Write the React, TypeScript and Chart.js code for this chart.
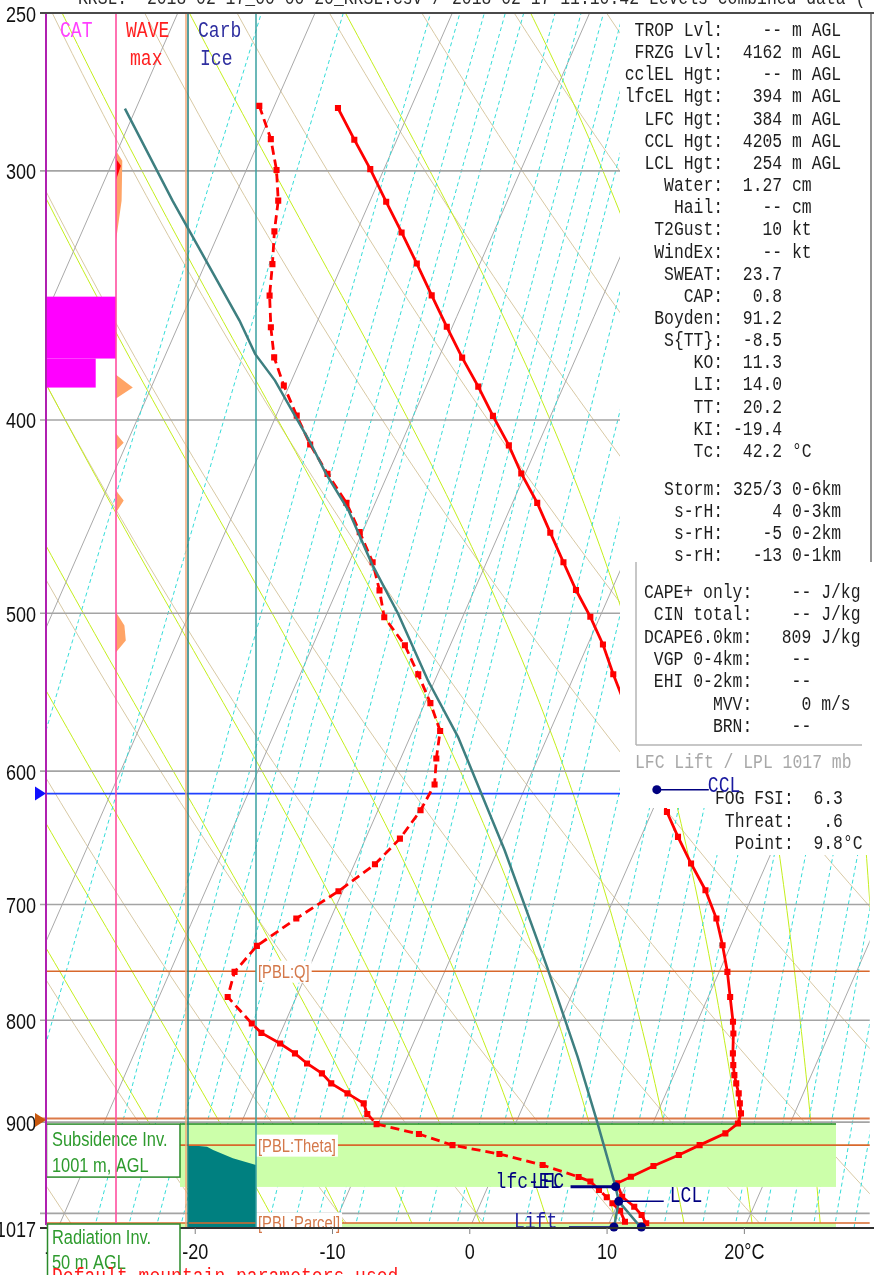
import { useEffect, useRef } from "react";
import { Chart, registerables } from "chart.js";

Chart.register(...registerables);

// ---------- skew-T geometry ----------
const P_TOP = 250;
const P_BASE = 1017;
const SKEW = 27.6; // °C of horizontal shift per natural-log unit of pressure
const X_MIN = -30.87;
const X_MAX = 29.13;
const skew = (t: number, p: number) => t + SKEW * Math.log(P_BASE / p);

// ---------- observed temperature (hPa, °C) ----------
const tempPres = [279.0, 289.4, 299.4, 310.9, 322.1, 333.9, 346.4, 359.2, 372.2, 384.9, 398.1, 411.9, 425.5, 440.2, 455.6, 471.4, 486.8, 502.1, 518.4, 536.5, 629.0, 647.4, 667.6, 688.5, 711.4, 733.7, 756.6, 778.8, 801.5, 812.4, 831.3, 842.6, 852.4, 860.6, 870.6, 880.7, 890.9, 901.3, 911.7, 924.2, 934.8, 946.7, 958.5, 965.9, 980.9, 992.3, 1001.8, 1011.5];
const tempVal = [-45.3, -43.1, -41.0, -38.8, -36.7, -34.6, -32.5, -30.4, -28.3, -26.2, -24.2, -22.1, -20.3, -18.2, -16.3, -14.4, -12.6, -10.7, -8.9, -7.2, 1.1, 2.7, 4.5, 6.4, 8.1, 9.4, 10.6, 11.6, 12.6, 13.0, 13.6, 14.0, 14.4, 14.8, 15.3, 15.7, 16.1, 16.2, 15.6, 14.1, 12.9, 11.4, 10.1, 9.3, 10.1, 11.3, 12.1, 12.7];

// ---------- observed dew point (hPa, °C) ----------
const dewPres = [278.3, 289.2, 299.7, 310.5, 321.7, 334.1, 346.5, 359.4, 372.1, 384.4, 398.0, 411.5, 425.7, 440.2, 455.3, 471.4, 487.0, 502.3, 518.9, 536.6, 554.7, 572.9, 591.4, 609.4, 627.8, 648.7, 668.2, 689.3, 711.4, 734.2, 756.6, 778.8, 803.0, 811.8, 821.8, 831.3, 841.0, 850.7, 860.6, 870.6, 880.7, 891.6, 902.0, 912.4, 924.2, 933.7, 945.7, 958.8, 963.8, 973.3, 981.6, 988.4, 996.9, 1009.6];
const dewVal = [-51.1, -49.2, -47.8, -46.7, -46.0, -45.1, -44.3, -43.2, -42.0, -40.4, -38.5, -36.6, -34.4, -32.1, -30.2, -28.3, -26.9, -25.7, -23.3, -21.4, -19.6, -18.0, -17.4, -16.7, -16.9, -17.5, -18.5, -20.3, -22.5, -24.5, -25.3, -25.0, -22.4, -21.4, -19.7, -18.3, -17.1, -15.7, -14.7, -13.2, -11.7, -11.1, -10.1, -6.7, -3.9, -0.2, 3.3, 6.3, 7.3, 8.2, 9.0, 9.6, 10.4, 11.1];
const dewSolidRange = [811, 892];

// ---------- lifted parcel ----------
const parcelPres = [1017, 986.2, 969.6, 897.8, 834.6, 752.2, 657.5, 576.9, 540.4, 500.3, 472.3, 444.1, 425.7, 409.6, 395.7, 382.2, 370.6, 356.6, 310.5, 279.2];
const parcelVal = [12.5, 10.0, 9.3, 5.8, 2.4, -2.7, -9.5, -16.5, -20.5, -24.8, -28.3, -31.7, -34.5, -36.8, -39.0, -41.2, -43.5, -45.7, -54.4, -60.8];
const liftPres = [1017, 986.2];
const liftVal = [10.5, 10.0];

// parcel levels
const lfcLevel = { p: 969.6, t: 9.3 };
const lclLevel = { p: 986.2, t: 10.0 };
const liftBase = { p: 1017, t: 10.5 };
const parcelBase = { p: 1017, t: 12.5 };
const cclLevel = { p: 613.0, t: -0.35 };
const cclLineP = 615.8;
const inversionTopP = 896.3;

// boundary layer markers
const pblPres = [756.0, 924.2, 1011.1];
const pblNames = ["[PBL:Q]", "[PBL:Theta]", "[PBL:Parcel]"];
const subsidenceLayer = [902.0, 969.9];
const radiationLayer = [1011.1, 1017];

// side columns
const catTopP = [346.9, 372.6];
const catBottomP = [372.6, 385.3];
const catLevel = [1.0, 0.71];
const wavePres = [293.1, 296.5, 310.5, 325.2, 379.6, 385.3, 390.2, 406.3, 410.6, 414.4, 434.0, 439.0, 445.1, 499.5, 507.1, 516.0, 523.1];
const waveAmp = [0, 0.09, 0.08, 0, 0, 0.24, 0, 0, 0.11, 0, 0, 0.11, 0, 0, 0.12, 0.14, 0];
const waveMaxPres = [295.8, 298.2, 303.2];
const waveMaxAmp = [0, 0.07, 0];
const iceFrac = [0, 0.28, 0.37, 0.66, 1];
const iceTopP = [924.1, 925.9, 929.5, 938.4, 945.7];

// axes
const pressureLabels = [250, 300, 400, 500, 600, 700, 800, 900, 1017];
const isobarLevels = [300, 400, 500, 600, 700, 800, 900, 1000];
const tempTicks = [-30, -20, -10, 0, 10, 20];
const tempTickLabels = ["-30", "-20", "-10", "0", "10", "20°C"];

// thermodynamic reference lines
const isotherms = [-90, -80, -70, -60, -50, -40, -30, -20, -10, 0, 10, 20, 30];
const dryThetas = [-40, -30, -20, -10, 0, 10, 20, 30, 40, 50, 60, 70, 80, 90, 100, 110, 120, 130, 140];
const moistThetaW = [-20, -15, -10, -5, 0, 5, 10, 15, 20, 25, 30, 35, 40];
const mixingRatios = [0.1, 0.2, 0.4, 0.5, 0.6, 0.7, 0.8, 1.0, 1.2, 1.4, 1.6, 1.8, 2.0, 2.5, 3, 3.5, 4, 5, 6, 7, 8, 9, 10, 12, 14, 16, 18, 20, 22, 24, 26, 28, 30, 33, 36];

// text panels
const indexLabels = ["TROP Lvl:", "FRZG Lvl:", "cclEL Hgt:", "lfcEL Hgt:", "LFC Hgt:", "CCL Hgt:", "LCL Hgt:", "Water:", "Hail:", "T2Gust:", "WindEx:", "SWEAT:", "CAP:", "Boyden:", "S{TT}:", "KO:", "LI:", "TT:", "KI:", "Tc:"];
const indexValues = ["    -- m AGL", "  4162 m AGL", "    -- m AGL", "   394 m AGL", "   384 m AGL", "  4205 m AGL", "   254 m AGL", "  1.27 cm", "    -- cm", "    10 kt", "    -- kt", "  23.7", "   0.8", "  91.2", "  -8.5", "  11.3", "  14.0", "  20.2", " -19.4", "  42.2 °C"];
const stormLabels = ["Storm:", "s-rH:", "s-rH:", "s-rH:"];
const stormValues = [" 325/3 0-6km", "     4 0-3km", "    -5 0-2km", "   -13 0-1km"];
const energyLabels = ["CAPE+ only:", "CIN total:", "DCAPE6.0km:", "VGP 0-4km:", "EHI 0-2km:", "MVV:", "BRN:"];
const energyValues = ["    -- J/kg", "    -- J/kg", "   809 J/kg", "    --", "    --", "     0 m/s", "    --"];
const fogLines = ["FOG FSI:  6.3", " Threat:   .6", "  Point:  9.8°C"];

// ---------- helpers ----------
const SQUEEZE = 0.82;
const SANS = '"Liberation Sans", Arial, sans-serif';
const MONO = '"Liberation Mono", "Courier New", monospace';

function drawText(ctx: CanvasRenderingContext2D, s: string, x: number, y: number, font: string, color: string, align: "left" | "right" | "center" = "left", bg?: string) {
  ctx.save();
  ctx.font = font;
  ctx.textBaseline = "alphabetic";
  ctx.textAlign = "left";
  const w = ctx.measureText(s).width * SQUEEZE;
  const x0 = align === "left" ? x : align === "right" ? x - w : x - w / 2;
  if (bg) {
    ctx.fillStyle = bg;
    ctx.fillRect(x0 - 2, y - 17, w + 4, 22);
  }
  ctx.fillStyle = color;
  ctx.translate(x0, y);
  ctx.scale(SQUEEZE, 1);
  ctx.fillText(s, 0, 0);
  ctx.restore();
}

const satVap = (tc: number) => 6.112 * Math.exp((17.67 * tc) / (tc + 243.5));
const dewFromMix = (w: number, p: number) => {
  const e = (w * p) / (622 + w);
  const l = Math.log(e / 6.112);
  return (243.5 * l) / (17.67 - l);
};
const dryAdiabat = (thetaC: number, p: number) => (thetaC + 273.15) * Math.pow(p / 1000, 0.2857) - 273.15;
const moistLapse = (tK: number, p: number) => {
  const es = satVap(tK - 273.15);
  const rs = (0.622 * es) / (p - es);
  return (287.04 * tK + 2.501e6 * rs) / (1005.7 + (2.501e6 * 2.501e6 * rs * 0.622) / (287.04 * tK * tK));
};
const moistAdiabat = (thetaW: number): Array<[number, number]> => {
  const pts: Array<[number, number]> = [];
  const t0 = thetaW + 273.15;
  const below = t0 + Math.log(P_BASE / 1000) * moistLapse(t0, 1000);
  pts.push([P_BASE, below - 273.15]);
  pts.push([1000, thetaW]);
  let lnp = Math.log(1000);
  let T = t0;
  const h = -0.01;
  while (Math.exp(lnp) > P_TOP - 2) {
    const k1 = moistLapse(T, Math.exp(lnp));
    const k2 = moistLapse(T + h * k1, Math.exp(lnp + h));
    T += (h * (k1 + k2)) / 2;
    lnp += h;
    pts.push([Math.exp(lnp), T - 273.15]);
  }
  return pts;
};
const sampleLevels: number[] = [];
for (let i = 0; i <= 60; i++) sampleLevels.push(P_BASE * Math.pow(P_TOP / P_BASE, i / 60));

const BAND_LEFT = 180;
const BAND_RIGHT = 836;
const CAT_LEFT = 46;
const WAVE_LEFT = 116;
const COL_WIDTH = 70;
const ICE_LEFT = 188;
const ICE_RIGHT = 256;

// ---------- background: thermodynamic diagram and layer markings ----------
const backgroundPlugin = {
  id: "skewtBackground",
  beforeDatasetsDraw(chart: any) {
    const { ctx, chartArea: a } = chart;
    const xs = chart.scales.x;
    const ys = chart.scales.y;
    const px = (t: number, p: number) => xs.getPixelForValue(skew(t, p));
    const py = (p: number) => ys.getPixelForValue(p);
    const curve = (pts: Array<[number, number]>) => {
      ctx.beginPath();
      pts.forEach(([p, t], i) => (i ? ctx.lineTo(px(t, p), py(p)) : ctx.moveTo(px(t, p), py(p))));
      ctx.stroke();
    };
    const hline = (y: number, x0: number, x1: number) => {
      ctx.beginPath();
      ctx.moveTo(x0, y);
      ctx.lineTo(x1, y);
      ctx.stroke();
    };

    ctx.save();
    ctx.beginPath();
    ctx.rect(a.left, a.top, a.right - a.left, a.bottom - a.top);
    ctx.clip();

    ctx.lineWidth = 1;
    ctx.strokeStyle = "#d8c9a4";
    dryThetas.forEach((th) => curve(sampleLevels.map((p) => [p, dryAdiabat(th, p)] as [number, number])));
    ctx.strokeStyle = "#c4ee1c";
    moistThetaW.forEach((tw) => curve(moistAdiabat(tw)));
    ctx.strokeStyle = "#a9a9a9";
    isotherms.forEach((t) => curve([[P_BASE, t], [P_TOP, t]]));
    ctx.strokeStyle = "#35dcd8";
    ctx.setLineDash([4, 3]);
    mixingRatios.forEach((w) => curve(sampleLevels.map((p) => [p, dewFromMix(w, p)] as [number, number])));
    ctx.setLineDash([]);
    ctx.restore();

    // isobars
    ctx.save();
    ctx.strokeStyle = "#a4a4a4";
    ctx.lineWidth = 1.6;
    isobarLevels.forEach((p) => hline(py(p), 40, a.right));

    // subsidence inversion layer
    const sTop = py(subsidenceLayer[0]);
    const sBot = py(subsidenceLayer[1]);
    ctx.fillStyle = "#ccffaa";
    ctx.fillRect(BAND_LEFT, sTop, BAND_RIGHT - BAND_LEFT, sBot - sTop);
    const rTop = py(radiationLayer[0]);
    const rBot = py(radiationLayer[1]);
    ctx.fillRect(BAND_LEFT, rTop, BAND_RIGHT - BAND_LEFT, rBot - rTop);
    ctx.strokeStyle = "#1f8a1f";
    ctx.lineWidth = 1.5;
    hline(sTop, BAND_LEFT, BAND_RIGHT);

    // CAT column
    ctx.fillStyle = "#ff00ff";
    catTopP.forEach((pt, i) => {
      const y0 = py(pt);
      const y1 = py(catBottomP[i]);
      ctx.fillRect(CAT_LEFT, y0, catLevel[i] * COL_WIDTH, y1 - y0);
    });
    // mountain-wave column
    const waveShape = (pres: number[], amp: number[], color: string) => {
      ctx.fillStyle = color;
      ctx.beginPath();
      ctx.moveTo(WAVE_LEFT, py(pres[0]));
      pres.forEach((p, i) => ctx.lineTo(WAVE_LEFT + amp[i] * COL_WIDTH, py(p)));
      ctx.lineTo(WAVE_LEFT, py(pres[pres.length - 1]));
      ctx.closePath();
      ctx.fill();
    };
    waveShape(wavePres, waveAmp, "#ffa466");
    waveShape(waveMaxPres, waveMaxAmp, "#ff0000");
    // carburettor icing column
    ctx.fillStyle = "#008080";
    ctx.beginPath();
    ctx.moveTo(ICE_LEFT, py(P_BASE));
    iceFrac.forEach((f, i) => ctx.lineTo(ICE_LEFT + f * (ICE_RIGHT - ICE_LEFT), py(iceTopP[i])));
    ctx.lineTo(ICE_RIGHT, py(P_BASE));
    ctx.closePath();
    ctx.fill();

    // level lines
    ctx.strokeStyle = "#2040ff";
    ctx.lineWidth = 1.6;
    hline(py(cclLineP), a.left, a.right);
    ctx.strokeStyle = "#dc7a48";
    ctx.lineWidth = 2;
    hline(py(inversionTopP), 40, a.right);
    ctx.strokeStyle = "#d8682c";
    ctx.lineWidth = 1.6;
    pblPres.forEach((p) => hline(py(p), a.left, a.right));
    pblPres.forEach((p, i) => drawText(ctx, pblNames[i], 258, py(p) + 6.5, `18px ${SANS}`, "#d4784a", "left", "#ffffff"));

    // subsidence label box
    ctx.fillStyle = "#ffffff";
    ctx.fillRect(46, sTop, BAND_LEFT - 46, 53);
    ctx.strokeStyle = "#2a8a2a";
    ctx.lineWidth = 1.5;
    ctx.strokeRect(46.5, sTop, BAND_LEFT - 46.5, 53);
    drawText(ctx, "Subsidence Inv.", 52, sTop + 22, `20px ${SANS}`, "#2e9b2e");
    drawText(ctx, "1001 m, AGL", 52, sTop + 48, `20px ${SANS}`, "#2e9b2e");

    // column borders
    const vline = (x: number, color: string, w: number, y1 = a.bottom) => {
      ctx.strokeStyle = color;
      ctx.lineWidth = w;
      ctx.beginPath();
      ctx.moveTo(x, a.top);
      ctx.lineTo(x, y1);
      ctx.stroke();
    };
    vline(186, "#f2a878", 1.5);
    vline(ICE_LEFT, "#1f8080", 1.5);
    vline(ICE_RIGHT, "#3aa0a0", 1.5);
    vline(WAVE_LEFT, "#ff4f9f", 1.6, 1225);
    vline(46, "#b020b0", 2, 1225);
    ctx.strokeStyle = "#e040e0";
    ctx.lineWidth = 1.5;
    hline(1225, 46, WAVE_LEFT);
    ctx.restore();
  },
};

// ---------- foreground: parcel markers, index panels, axis lettering ----------
const overlayPlugin = {
  id: "skewtOverlay",
  afterDatasetsDraw(chart: any) {
    const { ctx, chartArea: a } = chart;
    const xs = chart.scales.x;
    const ys = chart.scales.y;
    const px = (t: number, p: number) => xs.getPixelForValue(skew(t, p));
    const py = (p: number) => ys.getPixelForValue(p);
    const navy = "#000080";
    const seg = (x0: number, y0: number, x1: number, y1: number) => {
      ctx.beginPath();
      ctx.moveTo(x0, y0);
      ctx.lineTo(x1, y1);
      ctx.stroke();
    };
    const dot = (x: number, y: number) => {
      ctx.beginPath();
      ctx.arc(x, y, 4.5, 0, Math.PI * 2);
      ctx.fillStyle = navy;
      ctx.fill();
    };
    ctx.save();

    // parcel level markers
    const lfcX = px(lfcLevel.t, lfcLevel.p), lfcY = py(lfcLevel.p);
    const lclX = px(lclLevel.t, lclLevel.p), lclY = py(lclLevel.p);
    const liftX = px(liftBase.t, liftBase.p), liftY = py(liftBase.p) - 1;
    const baseX = px(parcelBase.t, parcelBase.p), baseY = py(parcelBase.p) - 1;
    ctx.strokeStyle = navy;
    ctx.lineWidth = 3;
    seg(lfcX - 45, lfcY, lfcX, lfcY);
    ctx.lineWidth = 1.5;
    seg(lclX, lclY, lclX + 45, lclY);
    seg(liftX - 45, liftY, liftX, liftY);
    drawText(ctx, "lfc-EL", lfcX - 120, lfcY + 1.5, `22px ${MONO}`, navy);
    drawText(ctx, "LFC", lfcX - 84, lfcY + 1.5, `22px ${MONO}`, navy);
    drawText(ctx, "LCL", lclX + 51, lclY + 1, `22px ${MONO}`, navy);
    drawText(ctx, "Lift", liftX - 100, liftY + 1, `22px ${MONO}`, "#2020a0");
    dot(lfcX, lfcY);
    dot(lclX, lclY);
    dot(liftX, liftY);
    dot(baseX, baseY);

    // index panel backgrounds
    ctx.fillStyle = "#ffffff";
    ctx.fillRect(620, a.top, 874 - 620, 808 - a.top);
    ctx.fillRect(707, 808, 874 - 707, 47);
    ctx.strokeStyle = "#707070";
    ctx.lineWidth = 1.5;
    seg(871, a.top, 871, 562);
    ctx.strokeStyle = "#b4b4b4";
    ctx.lineWidth = 1.5;
    seg(636, 562, 636, 745);
    seg(636, 745, 862, 745);

    const mono20 = `20px ${MONO}`;
    const ink = "#1e1e1e";
    indexLabels.forEach((l, i) => drawText(ctx, l.padStart(10) + indexValues[i], 624.7, 36 + 22.15 * i, mono20, ink));
    stormLabels.forEach((l, i) => drawText(ctx, l.padStart(10) + stormValues[i], 624.7, 494.5 + 22.2 * i, mono20, ink));
    energyLabels.forEach((l, i) => drawText(ctx, l.padStart(11) + energyValues[i], 644, 597.7 + 22.4 * i, mono20, ink));
    drawText(ctx, "LFC Lift / LPL 1017 mb", 635, 767.5, mono20, "#a8a8a8");
    fogLines.forEach((l, i) => drawText(ctx, l, 715, 804 + 22.5 * i, mono20, ink));

    // convective condensation level
    const cclX = px(cclLevel.t, cclLevel.p), cclY = py(cclLevel.p);
    ctx.strokeStyle = navy;
    ctx.lineWidth = 1.5;
    seg(cclX, cclY, cclX + 52, cclY);
    dot(cclX, cclY);
    drawText(ctx, "CCL", cclX + 51, cclY + 2, `22px ${MONO}`, "#1a1aa0");

    // frame
    ctx.strokeStyle = "#4a4a4a";
    ctx.lineWidth = 2;
    seg(40, a.top, 874, a.top);
    ctx.strokeStyle = "#303030";
    seg(40, a.bottom, 874, a.bottom);

    // pressure labels and level flags
    pressureLabels.forEach((p) => drawText(ctx, String(p), 36, py(p) + 8.5, `22px ${SANS}`, "#111111", "right"));
    const flag = (y: number, color: string) => {
      ctx.fillStyle = color;
      ctx.beginPath();
      ctx.moveTo(35, y - 7);
      ctx.lineTo(46, y);
      ctx.lineTo(35, y + 7);
      ctx.closePath();
      ctx.fill();
    };
    flag(py(cclLineP), "#1010ff");
    flag(py(inversionTopP) + 1.5, "#c8580e");

    // temperature labels
    ctx.strokeStyle = "#808080";
    ctx.lineWidth = 1;
    tempTicks.forEach((t, i) => {
      const x = xs.getPixelForValue(t);
      seg(x, a.bottom, x, a.bottom + 6);
      drawText(ctx, tempTickLabels[i], x, 1259, `22px ${SANS}`, "#111111", "center");
    });

    // radiation inversion box
    ctx.fillStyle = "#ffffff";
    ctx.fillRect(47, 1224, BAND_LEFT - 47, 60);
    ctx.strokeStyle = "#2a8a2a";
    ctx.lineWidth = 1.5;
    ctx.strokeRect(47.5, 1224, BAND_LEFT - 47.5, 60);
    drawText(ctx, "Radiation Inv.", 52, 1244, `20px ${SANS}`, "#2e9b2e");
    drawText(ctx, "50 m AGL", 52, 1269, `20px ${SANS}`, "#2e9b2e");

    // column headings
    const mono22 = `22px ${MONO}`;
    drawText(ctx, "CAT", 60, 37, mono22, "#ff40ff");
    drawText(ctx, "WAVE", 126, 37, mono22, "#ff2020");
    drawText(ctx, "max", 130, 65, mono22, "#ff2020");
    drawText(ctx, "Carb", 198, 37, mono22, "#2f2fa0");
    drawText(ctx, "Ice", 200, 65, mono22, "#2f2fa0");

    // header and footer lines
    drawText(ctx, "KRSL:  2018-02-17_00-00-20_KRSL.csv / 2018-02-17 11:10:42 Levels combined data (", 78, 4, mono20, "#2a2a2a");
    drawText(ctx, "Default mountain parameters used", 52, 1283, mono22, "#ff1a1a");
    ctx.restore();
  },
};

export default function App() {
  const ref = useRef<HTMLCanvasElement>(null);

  useEffect(() => {
    const canvas = ref.current;
    if (!canvas) return;
    const pts = (pres: number[], vals: number[]) => pres.map((p, i) => ({ x: skew(vals[i], p), y: p }));
    const inSolid = (p: number) => p >= dewSolidRange[0] && p <= dewSolidRange[1];

    const chart = new Chart(canvas, {
      type: "scatter",
      data: {
        datasets: [
          {
            label: "Temperature",
            data: pts(tempPres, tempVal),
            showLine: true,
            borderColor: "#ff0000",
            borderWidth: 2.8,
            pointStyle: "rect",
            pointRadius: 4.3,
            pointBackgroundColor: "#ff0000",
            pointBorderWidth: 0,
            order: 2,
          },
          {
            label: "Dew point",
            data: pts(dewPres, dewVal),
            showLine: true,
            borderColor: "#ff0000",
            borderWidth: 2.8,
            borderDash: [9, 5],
            segment: {
              borderDash: (c: any) => (inSolid(c.p0.parsed.y) && inSolid(c.p1.parsed.y) ? [] : [9, 5]),
            },
            pointStyle: "rect",
            pointRadius: 4.3,
            pointBackgroundColor: "#ff0000",
            pointBorderWidth: 0,
            order: 2,
          },
          {
            label: "Parcel",
            data: pts(parcelPres, parcelVal),
            showLine: true,
            borderColor: "#3e7f80",
            borderWidth: 2.5,
            pointRadius: 0,
            order: 1,
          },
          {
            label: "Lift",
            data: pts(liftPres, liftVal),
            showLine: true,
            borderColor: "#3e7f80",
            borderWidth: 2.5,
            pointRadius: 0,
            order: 1,
          },
        ],
      },
      options: {
        animation: false,
        responsive: false,
        devicePixelRatio: 1,
        events: [],
        layout: { padding: { left: 46, top: 13, right: 0, bottom: 47 } },
        scales: {
          x: { type: "linear", min: X_MIN, max: X_MAX, display: false },
          y: { type: "logarithmic", min: P_TOP, max: P_BASE, reverse: true, display: false },
        },
        plugins: { legend: { display: false }, tooltip: { enabled: false } },
      },
      plugins: [backgroundPlugin, overlayPlugin],
    } as any);
    return () => chart.destroy();
  }, []);

  return (
    <div style={{ position: "absolute", left: 0, top: 0, width: 874, height: 1275, background: "#ffffff", overflow: "hidden" }}>
      <canvas ref={ref} width={874} height={1275} style={{ display: "block" }} />
    </div>
  );
}
